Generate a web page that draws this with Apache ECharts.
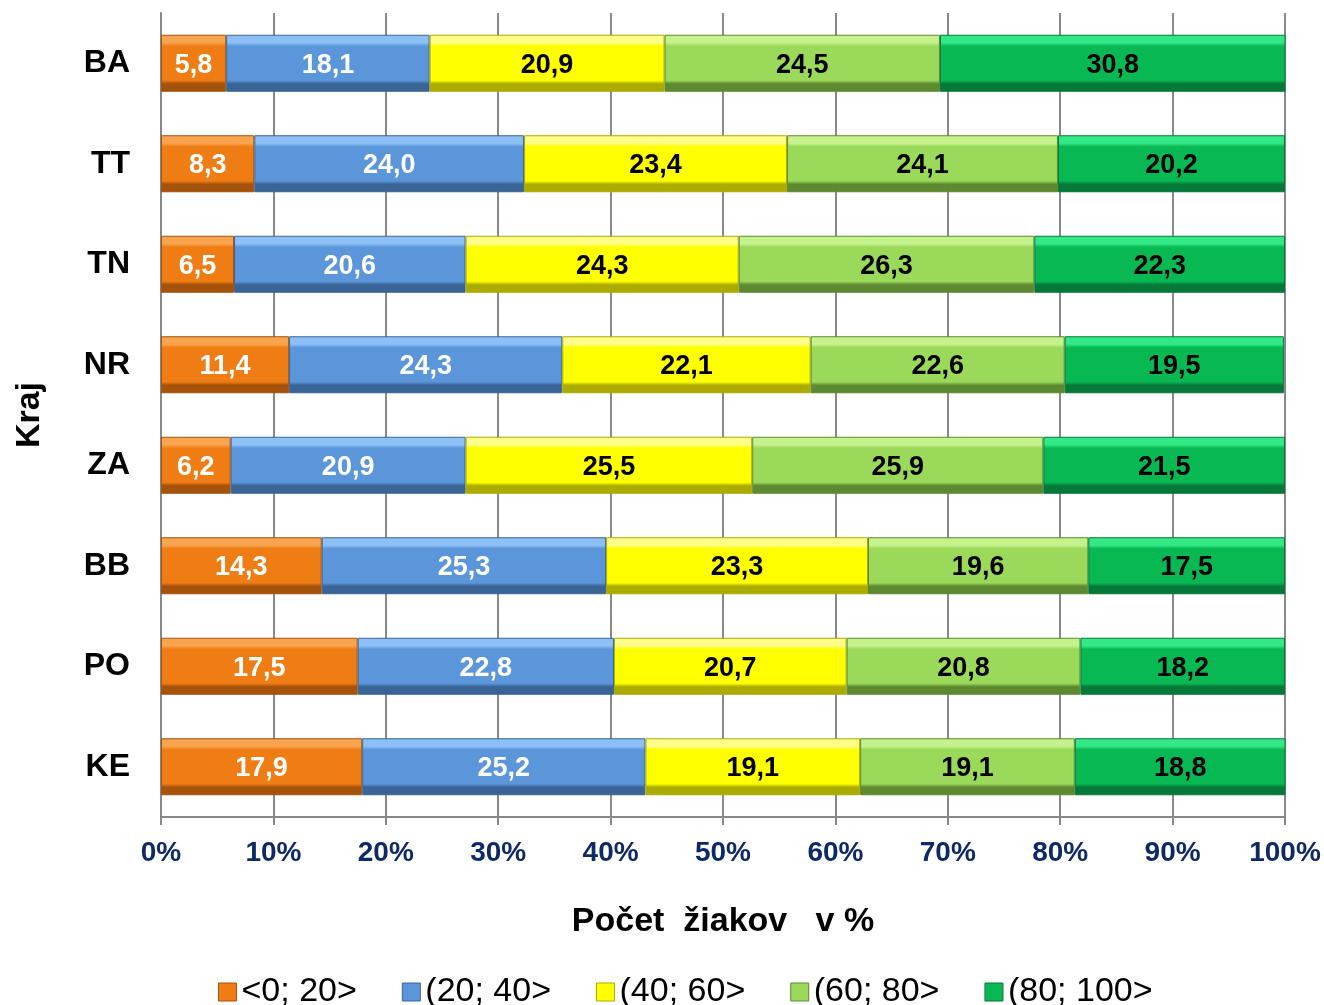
<!DOCTYPE html>
<html><head><meta charset="utf-8">
<script src="https://cdn.jsdelivr.net/npm/echarts@6/dist/echarts.min.js"></script>
<style>html,body{margin:0;padding:0;background:#fff}#c{width:1324px;height:1005px}</style>
</head><body><div id="c"></div>
<script>
const categories = ['BA','TT','TN','NR','ZA','BB','PO','KE'];
const seriesNames = ['<0; 20>','(20; 40>','(40; 60>','(60; 80>','(80; 100>'];
const s1 = [5.8, 8.3, 6.5, 11.4, 6.2, 14.3, 17.5, 17.9];
const s2 = [18.1, 24.0, 20.6, 24.3, 20.9, 25.3, 22.8, 25.2];
const s3 = [20.9, 23.4, 24.3, 22.1, 25.5, 23.3, 20.7, 19.1];
const s4 = [24.5, 24.1, 26.3, 22.6, 25.9, 19.6, 20.8, 19.1];
const s5 = [30.8, 20.2, 22.3, 19.5, 21.5, 17.5, 18.2, 18.8];
const xTicks = [0,10,20,30,40,50,60,70,80,90,100];

const FONT = 'Arial, "Liberation Sans", sans-serif';
const palettes = [
  {base:'#F07C14', light:'#F9A550', dark:'#A5520B', label:'#fff'},
  {base:'#5B96DB', light:'#8DC0F6', dark:'#3A6496', label:'#fff'},
  {base:'#FFFF00', light:'#FFFF8A', dark:'#ABAB00', label:'#000'},
  {base:'#9BD95A', light:'#C6F28E', dark:'#5D8930', label:'#000'},
  {base:'#08B853', light:'#33E886', dark:'#05783A', label:'#000'}
];
function grad(p){
  return new echarts.graphic.LinearGradient(0,0,0,1,[
    {offset:0, color:p.light},{offset:0.14, color:p.light},
    {offset:0.2, color:p.base},{offset:0.8, color:p.base},
    {offset:0.86, color:p.dark},{offset:1, color:p.dark}
  ]);
}
const dataSets = [s1,s2,s3,s4,s5];
const series = dataSets.map((d,i)=>({
  name: seriesNames[i], type:'bar', stack:'total', barWidth:57,
  data: d,
  itemStyle:{color:grad(palettes[i]), borderColor:palettes[i].dark, borderWidth:1},
  label:{show:true, position:'inside', offset:[0,2], color:palettes[i].label, fontFamily:FONT,
    fontWeight:'bold', fontSize:27, formatter:(p)=>p.value.toFixed(1).replace('.',',')},
  emphasis:{disabled:true}
}));
const chart = echarts.init(document.getElementById('c'));
chart.setOption({
  animation:false,
  grid:{left:161, right:39, top:13, bottom:188, containLabel:false},
  legend:{top:970, left:213, itemWidth:18, itemHeight:18, itemGap:45,
    icon:'rect',
    textStyle:{fontFamily:FONT, fontSize:34, color:'#000'},
    data: seriesNames.map((n,i)=>({name:n, itemStyle:{color:palettes[i].base, borderColor:palettes[i].dark, borderWidth:1}}))},
  xAxis:{type:'value', min:0, max:100, interval:10,
    name:'Počet  žiakov   v %', nameLocation:'middle', nameGap:88,
    nameTextStyle:{fontFamily:FONT, fontSize:34, fontWeight:'bold', color:'#000'},
    axisLine:{show:true, lineStyle:{color:'#888', width:2}},
    axisTick:{show:true, length:8, lineStyle:{color:'#888', width:2}},
    splitLine:{show:true, lineStyle:{color:'#888', width:2}},
    axisLabel:{formatter:(v)=>xTicks.includes(v)?v+'%':'', fontFamily:FONT, fontSize:28, fontWeight:'bold', color:'#0E2A66', margin:22}
  },
  yAxis:{type:'category', data:categories, inverse:true,
    name:'Kraj', nameLocation:'middle', nameGap:114, nameRotate:90,
    nameTextStyle:{fontFamily:FONT, fontSize:34, fontWeight:'bold', color:'#000'},
    axisLine:{show:true, lineStyle:{color:'#888', width:2}},
    axisTick:{show:false},
    axisLabel:{fontFamily:FONT, fontSize:32, fontWeight:'bold', color:'#000', margin:31, padding:[2,0,0,0]}
  },
  series: series
});
</script></body></html>
